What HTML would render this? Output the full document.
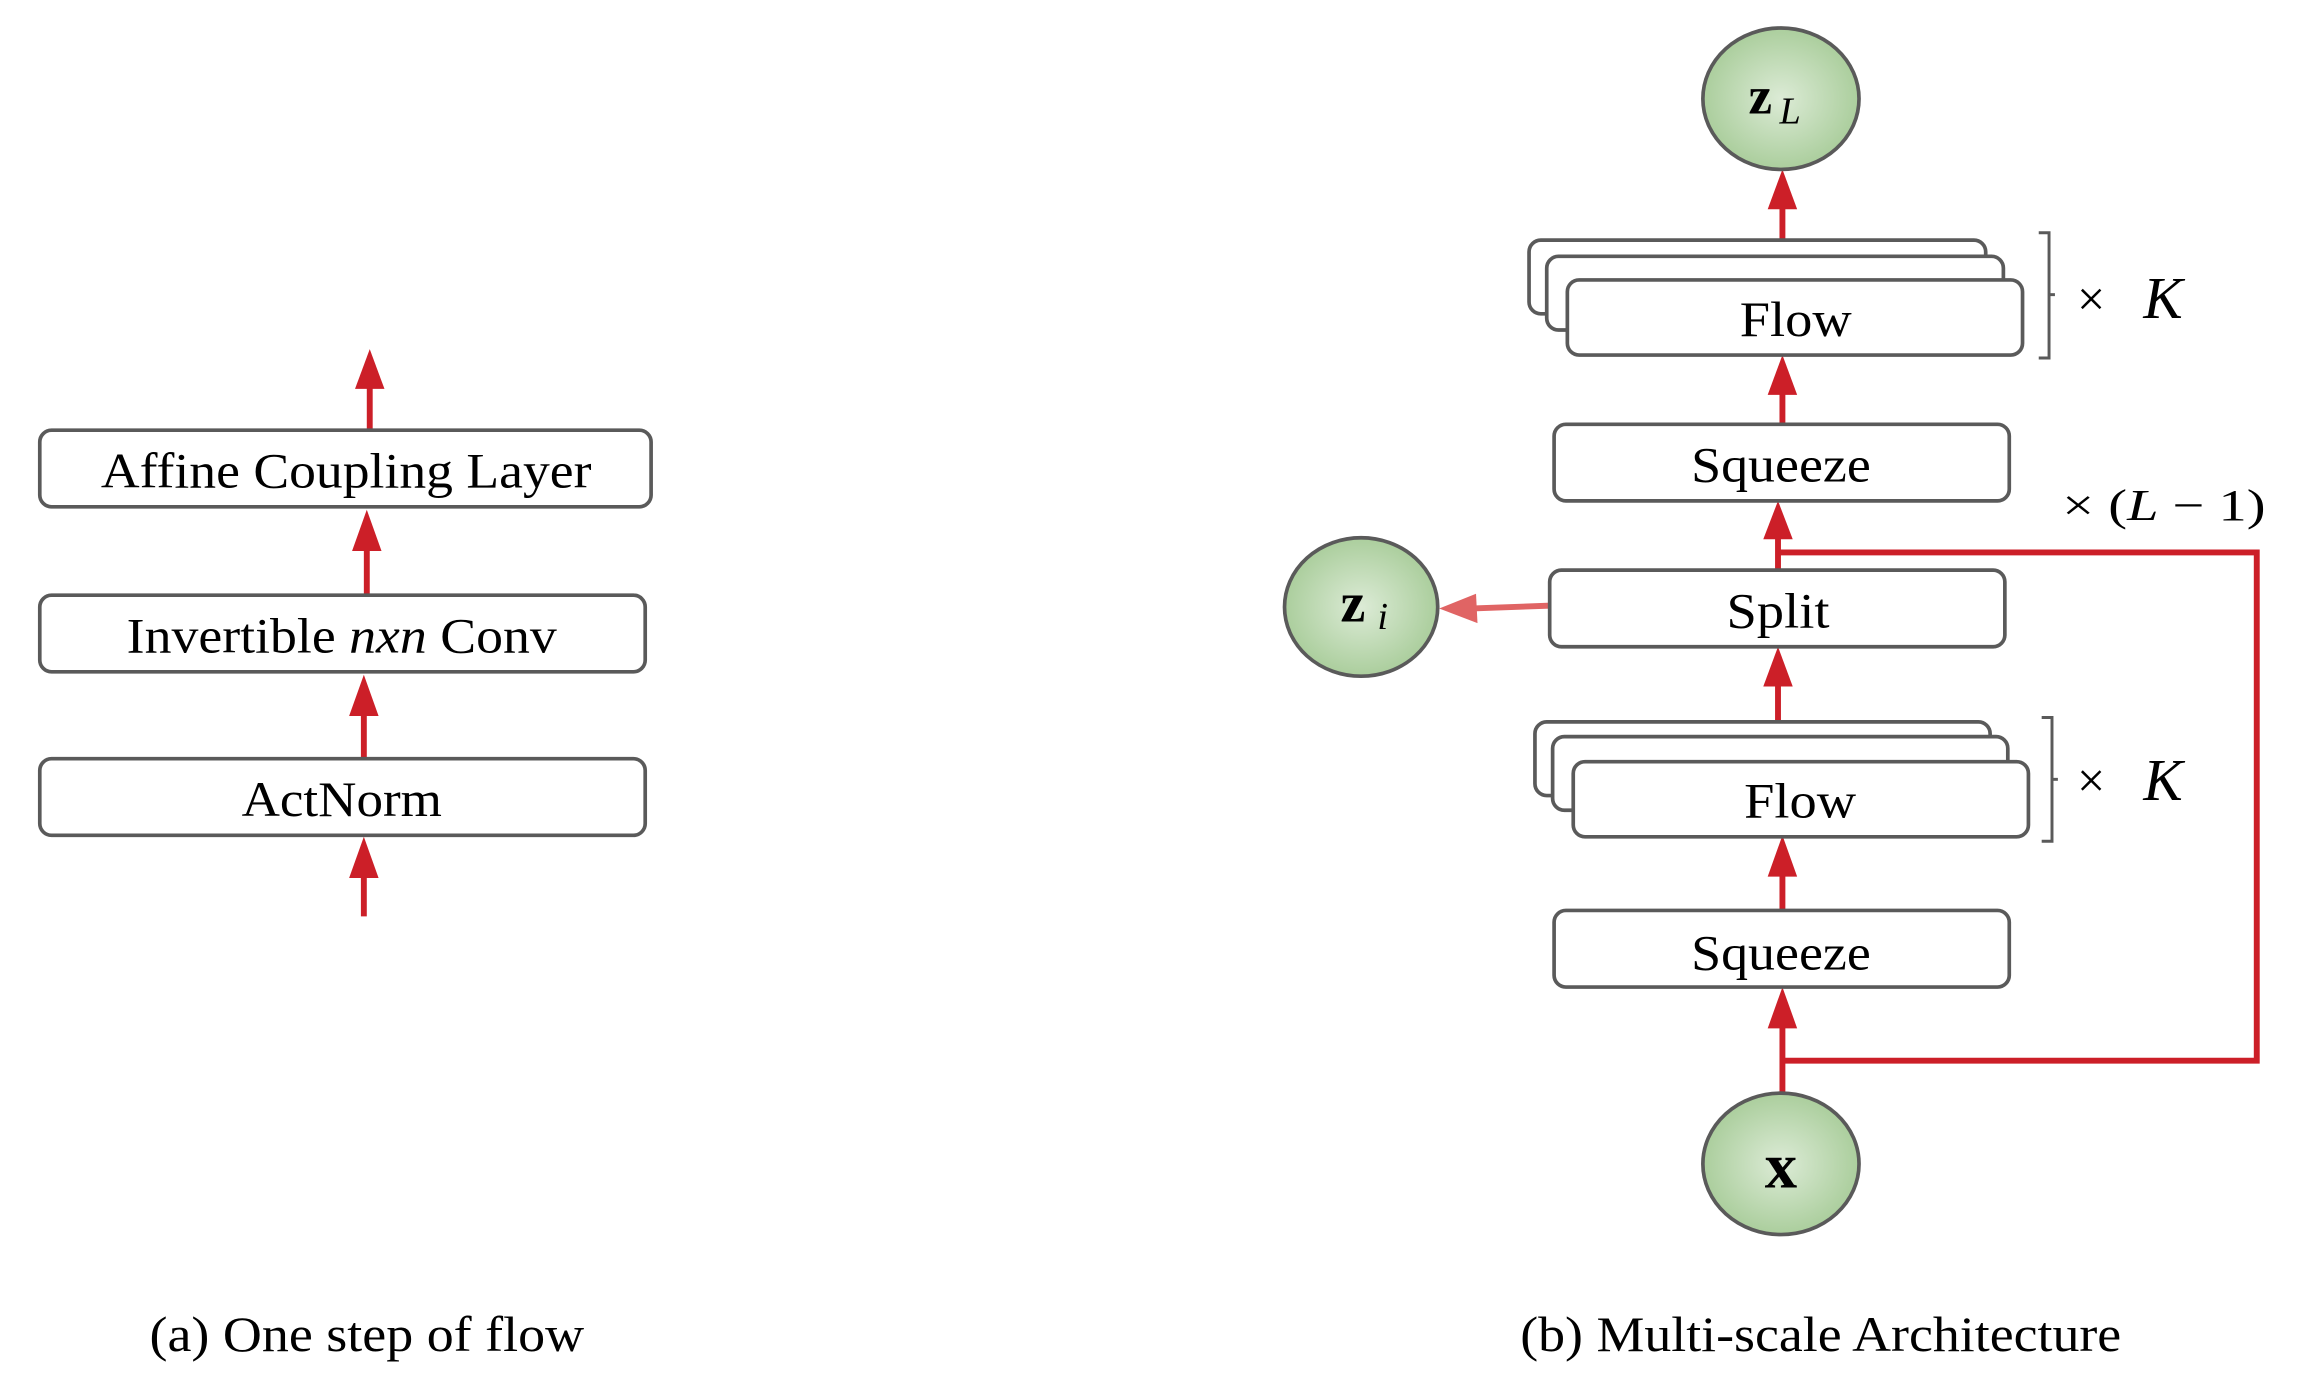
<!DOCTYPE html>
<html><head><meta charset="utf-8"><style>html,body{margin:0;padding:0;background:#fff}svg{display:block}</style></head>
<body>
<svg width="2298" height="1376" viewBox="0 0 1560 934" preserveAspectRatio="none" xmlns="http://www.w3.org/2000/svg" font-family="Liberation Serif, serif">
<defs>
<radialGradient id="g" cx="50%" cy="50%" r="55%"><stop offset="0" stop-color="#dcebd6"/><stop offset="1" stop-color="#a6cb97"/></radialGradient>
</defs>
<g fill="none" stroke="#cc1f28" stroke-width="4">
<line x1="251" y1="292" x2="251" y2="262"/>
<line x1="249" y1="404" x2="249" y2="372"/>
<line x1="247" y1="515" x2="247" y2="484"/>
<line x1="247" y1="622" x2="247" y2="594"/>
<line x1="1210" y1="163" x2="1210" y2="140"/>
<line x1="1210" y1="290" x2="1210" y2="266"/>
<line x1="1207" y1="388" x2="1207" y2="364"/>
<line x1="1207" y1="490" x2="1207" y2="464"/>
<line x1="1210" y1="617" x2="1210" y2="593"/>
<line x1="1210" y1="742" x2="1210" y2="696"/>
<polyline points="1207,375 1532,375 1532,720 1210,720"/>
</g>
<g fill="#cc1f28">
<polygon points="251,237 241,264 261,264"/>
<polygon points="249,346 239,374 259,374"/>
<polygon points="247,458 237,486 257,486"/>
<polygon points="247,568 237,596 257,596"/>
<polygon points="1210,115 1200,142 1220,142"/>
<polygon points="1210,241 1200,268 1220,268"/>
<polygon points="1207,340 1197,366 1217,366"/>
<polygon points="1207,439 1197,466 1217,466"/>
<polygon points="1210,567 1200,595 1220,595"/>
<polygon points="1210,670 1200,698 1220,698"/>
</g>
<line x1="1055" y1="411" x2="1000" y2="413" stroke="#e06464" stroke-width="4"/>
<polygon points="977,413 1002,403 1003,423" fill="#e06464"/>
<g fill="#fff" stroke="#5a5a5a" stroke-width="2.5">
<rect x="27" y="292" width="415" height="52" rx="8"/>
<rect x="27" y="404" width="411" height="52" rx="8"/>
<rect x="27" y="515" width="411" height="52" rx="8"/>
<rect x="1038" y="163" width="310" height="50" rx="8"/>
<rect x="1050" y="174" width="310" height="50" rx="8"/>
<rect x="1064" y="190" width="309" height="51" rx="8"/>
<rect x="1055" y="288" width="309" height="52" rx="8"/>
<rect x="1052" y="387" width="309" height="52" rx="8"/>
<rect x="1042" y="490" width="309" height="50" rx="8"/>
<rect x="1054" y="500" width="309" height="50" rx="8"/>
<rect x="1068" y="517" width="309" height="51" rx="8"/>
<rect x="1055" y="618" width="309" height="52" rx="8"/>
</g>
<g fill="none" stroke="#5a5a5a" stroke-width="2">
<polyline points="1384,158 1391,158 1391,243 1384,243"/><line x1="1391" y1="200" x2="1395" y2="200"/>
<polyline points="1386,487 1393,487 1393,571 1386,571"/><line x1="1393" y1="529" x2="1397" y2="529"/>
</g>
<g fill="url(#g)" stroke="#5a5a5a" stroke-width="2.5">
<ellipse cx="1209" cy="67" rx="53" ry="48"/>
<ellipse cx="924" cy="412" rx="52" ry="47"/>
<ellipse cx="1209" cy="790" rx="53" ry="48"/>
</g>
<g font-size="34" fill="#000" text-anchor="middle">
<text x="235" y="331" textLength="333" lengthAdjust="spacingAndGlyphs">Affine Coupling Layer</text>
<text x="232" y="443" textLength="292" lengthAdjust="spacingAndGlyphs">Invertible <tspan font-style="italic">nxn</tspan> Conv</text>
<text x="232" y="554" textLength="136" lengthAdjust="spacingAndGlyphs">ActNorm</text>
<text x="1219" y="228" textLength="76" lengthAdjust="spacingAndGlyphs">Flow</text>
<text x="1222" y="555" textLength="76" lengthAdjust="spacingAndGlyphs">Flow</text>
<text x="1209" y="327" textLength="122" lengthAdjust="spacingAndGlyphs">Squeeze</text>
<text x="1209" y="658" textLength="122" lengthAdjust="spacingAndGlyphs">Squeeze</text>
<text x="1207" y="426" textLength="70" lengthAdjust="spacingAndGlyphs">Split</text>
<text x="249" y="917" textLength="295" lengthAdjust="spacingAndGlyphs">(a) One step of flow</text>
<text x="1236" y="917" textLength="408" lengthAdjust="spacingAndGlyphs">(b) Multi-scale Architecture</text>
</g>
<g fill="#000">
<text x="1187" y="77" font-size="36" font-weight="bold">z</text><text x="1208" y="84" font-size="26" font-style="italic">L</text>
<text x="910" y="422" font-size="38" font-weight="bold">z</text><text x="935" y="427" font-size="26" font-style="italic">i</text>
<text x="1209" y="806" font-size="44" font-weight="bold" text-anchor="middle">x</text>
<text x="1410" y="214" font-size="34">×</text><text x="1455" y="216" font-size="40" font-style="italic">K</text>
<text x="1410" y="541" font-size="34">×</text><text x="1455" y="543" font-size="40" font-style="italic">K</text>
<text x="1400" y="353" font-size="30" textLength="138" lengthAdjust="spacingAndGlyphs">× (<tspan font-style="italic">L</tspan> − 1)</text>
</g>
</svg>
</body></html>
